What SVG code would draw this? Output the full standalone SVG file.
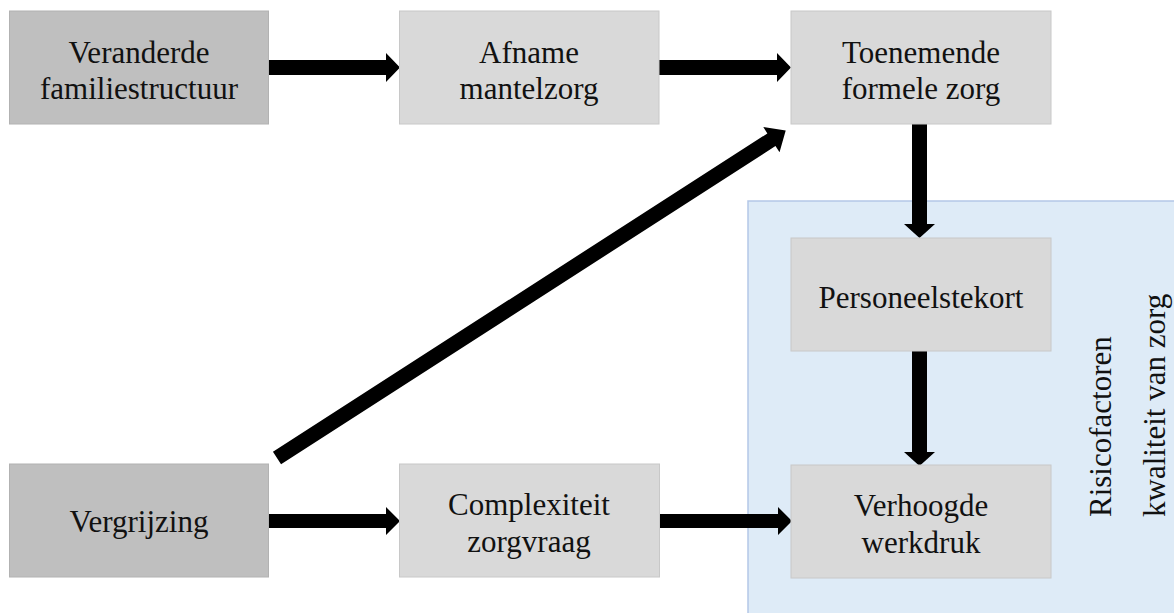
<svg xmlns="http://www.w3.org/2000/svg" width="1174" height="613" viewBox="0 0 1174 613">
  <style>
    .dark { fill: #bfbfbf; stroke: #b2b2b2; stroke-width: 1; }
    .light { fill: #d9d9d9; stroke: #c8c8c8; stroke-width: 1; }
    .lbl { font-size: 31px; fill: #111111; text-anchor: middle; }
    .vlbl { font-size: 31px; fill: #111111; text-anchor: start; }
    .arr { fill: #000000; }
  </style>
  <rect width="1174" height="613" fill="#ffffff"/>

  <g id="risk-region" font-family="'Liberation Serif', 'Times New Roman', serif">
    <rect x="748" y="201" width="440" height="430" fill="#deebf7" stroke="#b4c7e7" stroke-width="1.5"/>
    <text class="vlbl" transform="translate(1111,517) rotate(-90)">Risicofactoren</text>
    <text class="vlbl" transform="translate(1165,517) rotate(-90)">kwaliteit van zorg</text>
  </g>

  <g id="connectors">
    <polygon class="arr" points="268,60 386,60 386,53 400,67.5 386,82 386,75 268,75"/>
    <polygon class="arr" points="659,60 777,60 777,53 791,67.5 777,82 777,75 659,75"/>
    <polygon class="arr" points="912,124 927,124 927,224 935,224 919.5,238 904,224 912,224"/>
    <polygon class="arr" points="912,351 927,351 927,452 935,452 919.5,466 904,452 912,452"/>
    <polygon class="arr" points="269,514 386,514 386,507 400,521 386,535 386,528 269,528"/>
    <polygon class="arr" points="660,514 778,514 778,507 792,521 778,535 778,528 660,528"/>
    <g transform="translate(277,458) rotate(-32.77)">
      <polygon class="arr" points="0,-7.5 588,-7.5 588,-15 605,0 588,15 588,7.5 0,7.5"/>
    </g>
  </g>

  <g font-family="'Liberation Serif', 'Times New Roman', serif">
  <g id="veranderde-familiestructuur">
    <rect class="dark" x="9.5" y="11" width="259" height="113"/>
    <text class="lbl" x="139" y="63">Veranderde</text>
    <text class="lbl" x="139" y="99">familiestructuur</text>
  </g>

  <g id="afname-mantelzorg">
    <rect class="light" x="399.5" y="11" width="259.5" height="113"/>
    <text class="lbl" x="529" y="63">Afname</text>
    <text class="lbl" x="529" y="99">mantelzorg</text>
  </g>

  <g id="toenemende-formele-zorg">
    <rect class="light" x="791" y="11" width="260" height="113"/>
    <text class="lbl" x="921" y="63">Toenemende</text>
    <text class="lbl" x="921" y="99">formele zorg</text>
  </g>

  <g id="personeelstekort">
    <rect class="light" x="791" y="238" width="260" height="113"/>
    <text class="lbl" x="921" y="308">Personeelstekort</text>
  </g>

  <g id="vergrijzing">
    <rect class="dark" x="9.5" y="464" width="259" height="113"/>
    <text class="lbl" x="139" y="532">Vergrijzing</text>
  </g>

  <g id="complexiteit-zorgvraag">
    <rect class="light" x="399.5" y="464" width="260" height="113"/>
    <text class="lbl" x="529" y="515">Complexiteit</text>
    <text class="lbl" x="529" y="552">zorgvraag</text>
  </g>

  <g id="verhoogde-werkdruk">
    <rect class="light" x="791" y="465" width="260" height="113"/>
    <text class="lbl" x="921" y="516">Verhoogde</text>
    <text class="lbl" x="921" y="553">werkdruk</text>
  </g>
  </g>
</svg>
